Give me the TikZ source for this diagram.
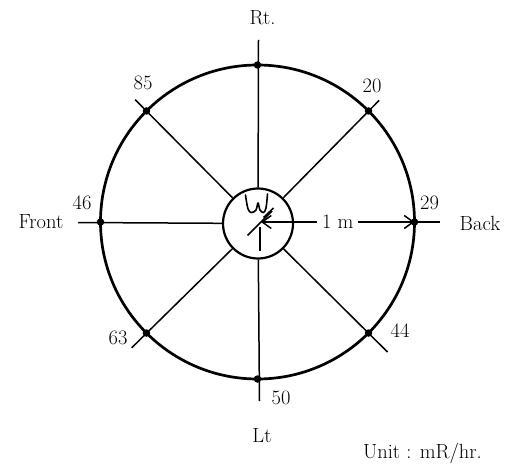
\documentclass[tikz,border=0pt]{standalone}
\usetikzlibrary{arrows.meta,calc}
\begin{document}
\begin{tikzpicture}[x=1pt,y=1pt,
  spoke/.style={line width=1.5pt},
  rim/.style={line width=2.7pt},
  dot/.style={circle,fill,inner sep=0pt,minimum size=7.5pt},
  lbl/.style={font=\fontsize{20.5}{24}\selectfont,inner sep=0pt},
  barb/.style={line width=1.5pt,{Straight Barb[length=9pt,width=13pt]}-{Straight Barb[length=9pt,width=13pt]}}]
\useasboundingbox (0,0) rectangle (514,472);
\coordinate (C) at (257.5,250);
\node[circle,draw,line width=2.2pt,minimum size=70pt,inner sep=0pt] (I) at (258,248.5) {};
\draw[rim] (C) circle (157);
\foreach \a/\n in {90/N,45/NE,0/E,315/SE,270/S,225/SW,180/W,135/NW}
  \node[dot] (d\n) at ($(C)+(\a:157)$) {};
\coordinate (eN) at (258.5,432);
\coordinate (eS) at (259.5,71);
\coordinate (eW) at (78,249.5);
\coordinate (eE) at (440,250);
\coordinate (eNW) at ($(C)+(135:173)$);
\coordinate (eNE) at ($(C)+(45:172)$);
\coordinate (eSW) at ($(C)+(225:178)$);
\coordinate (eSE) at ($(C)+(315:184)$);
\foreach \n in {N,S,W,NW,NE,SW,SE}
  \draw[spoke] (e\n) -- (I);
\draw[spoke] (dE.center) -- (eE);
\coordinate (tip) at (261,250);
\draw[barb] (tip) -- node[lbl,fill=white,inner xsep=5pt,inner ysep=2pt] (onem) {1 m} (dE.center);
% dosimeter sketch
\coordinate (v1) at (260,245);
\coordinate (v2) at (260,221);
\draw[spoke] (v1) -- (v2);
\coordinate (s1) at (247.5,236.5);
\coordinate (s2) at (272,261);
\draw[spoke] (s1) -- (s2);
\coordinate (s3) at (263.5,254.5);
\coordinate (s4) at (273.5,264);
\draw[spoke] (s3) -- (s4);
\draw[line width=1.6pt,line cap=round,line join=round] plot[smooth,tension=0.6] coordinates
  {(245.5,277) (248,263) (251.5,259.5) (256,262) (258,269) (260,262) (263.5,259.5) (266,264) (267.5,278)};
% labels
\node[lbl] (rt) at (262.5,454) {Rt.};
\node[lbl] (lt) at (262,36) {Lt};
\node[lbl] (front) at (41,250) {Front};
\node[lbl] (back) at (480,249) {Back};
\node[lbl] (v46) at (82,269) {46};
\node[lbl] (v29) at (429.5,269) {29};
\node[lbl] (v85) at (143,389) {85};
\node[lbl] (v20) at (372,386) {20};
\node[lbl] (v63) at (118,134) {63};
\node[lbl] (v44) at (400,141) {44};
\node[lbl] (v50) at (281,74) {50};
\node[lbl,anchor=east] (unit) at (482,19) {Unit : mR/hr.};
\end{tikzpicture}
\end{document}
